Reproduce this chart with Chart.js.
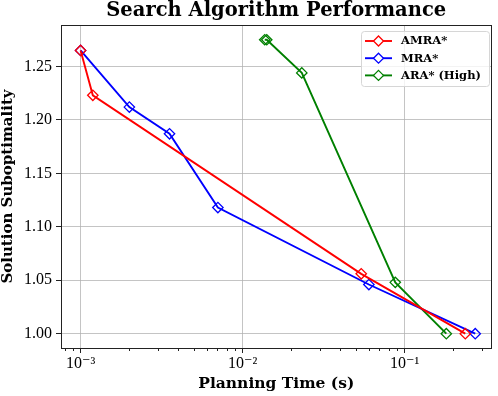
<!DOCTYPE html>
<html>
<head>
<meta charset="utf-8">
<script src="https://cdn.jsdelivr.net/npm/chart.js@4.4.0/dist/chart.umd.min.js"></script>
<style>
  html, body { margin: 0; padding: 0; background: #fff; }
</style>
</head>
<body>
<canvas id="chart" width="498" height="396"></canvas>
<script>
// Series
const seriesNames = ['AMRA*', 'MRA*', 'ARA* (High)'];
const seriesColors = ['#ff0000', '#0000ff', '#008000'];

const amraTime = [0.001, 0.00119, 0.054, 0.237];
const amraSubopt = [1.265, 1.223, 1.056, 1.000];

const mraTime = [0.001, 0.002, 0.00354, 0.00704, 0.0602, 0.273];
const mraSubopt = [1.265, 1.212, 1.187, 1.118, 1.046, 1.000];

const araTime = [0.0137, 0.0141, 0.0232, 0.0876, 0.181];
const araSubopt = [1.275, 1.275, 1.244, 1.048, 1.000];

const xMajorTicks = [0.001, 0.01, 0.1];
const yTicks = [1.00, 1.05, 1.10, 1.15, 1.20, 1.25];

const serif = "'DejaVu Serif', serif";
const tickFont = "'Liberation Serif', 'DejaVu Serif', serif";
const sup = { '-': '\u207B', '1': '\u00B9', '2': '\u00B2', '3': '\u00B3' };

const toPoints = (xs, ys) => xs.map((x, i) => ({ x, y: ys[i] }));

const makeDataset = (i, xs, ys) => ({
    label: seriesNames[i],
    data: toPoints(xs, ys),
    borderColor: seriesColors[i],
    borderWidth: 1.9,
    pointStyle: 'rectRot',
    pointRadius: 5.2,
    pointBorderWidth: 1.3,
    pointBorderColor: seriesColors[i],
    pointBackgroundColor: 'rgba(0,0,0,0)',
    tension: 0,
    fill: false
});

// minor ticks, frame and legend box
const extras = {
    id: 'extras',
    afterDatasetsDraw(chart) {
        const { ctx, chartArea: a, scales } = chart;
        const xs = scales.x;
        ctx.save();
        ctx.strokeStyle = '#222';
        ctx.lineWidth = 1;
        for (let k = -4; k <= 0; k++) {
            for (let m = 2; m <= 9; m++) {
                const v = m * Math.pow(10, k);
                if (v < xs.min || v > xs.max) continue;
                const px = Math.round(xs.getPixelForValue(v)) + 0.5;
                ctx.beginPath();
                ctx.moveTo(px, a.bottom);
                ctx.lineTo(px, a.bottom + 3);
                ctx.stroke();
            }
        }
        ctx.strokeRect(Math.round(a.left) + 0.5, Math.round(a.top) + 0.5,
            Math.round(a.right - a.left) - 1, Math.round(a.bottom - a.top));

        // legend
        const bx = 361.5, by = 31.5, bw = 128, bh = 55, r = 3;
        ctx.beginPath();
        ctx.moveTo(bx + r, by);
        ctx.arcTo(bx + bw, by, bx + bw, by + bh, r);
        ctx.arcTo(bx + bw, by + bh, bx, by + bh, r);
        ctx.arcTo(bx, by + bh, bx, by, r);
        ctx.arcTo(bx, by, bx + bw, by, r);
        ctx.closePath();
        ctx.fillStyle = 'rgba(255,255,255,0.8)';
        ctx.fill();
        ctx.strokeStyle = '#d6d6d6';
        ctx.stroke();

        ctx.font = 'bold 11.5px ' + serif;
        ctx.textBaseline = 'middle';
        seriesNames.forEach((name, i) => {
            const cy = 41 + i * 17.2;
            ctx.strokeStyle = seriesColors[i];
            ctx.lineWidth = 1.9;
            ctx.beginPath();
            ctx.moveTo(365, cy);
            ctx.lineTo(392, cy);
            ctx.stroke();
            ctx.lineWidth = 1.3;
            ctx.beginPath();
            ctx.moveTo(378.5, cy - 5);
            ctx.lineTo(383.5, cy);
            ctx.lineTo(378.5, cy + 5);
            ctx.lineTo(373.5, cy);
            ctx.closePath();
            ctx.fillStyle = '#fff';
            ctx.fill();
            ctx.stroke();
            ctx.fillStyle = '#000';
            ctx.fillText(name, 401, cy + 0.5);
        });
        ctx.restore();
    }
};

new Chart(document.getElementById('chart').getContext('2d'), {
    type: 'line',
    data: {
        datasets: [
            makeDataset(0, amraTime, amraSubopt),
            makeDataset(1, mraTime, mraSubopt),
            makeDataset(2, araTime, araSubopt)
        ]
    },
    options: {
        responsive: false,
        animation: false,
        layout: { padding: { left: 0, right: 3, top: 0, bottom: 0 } },
        plugins: {
            legend: { display: false },
            tooltip: { enabled: false },
            title: {
                display: true,
                fullSize: false,
                text: 'Search Algorithm Performance',
                color: '#000',
                font: { family: serif, size: 19.5, weight: 'bold', lineHeight: 1.0 },
                padding: { top: 1, bottom: 4.5 }
            }
        },
        scales: {
            x: {
                type: 'logarithmic',
                min: 7.57e-4,
                max: 0.344,
                afterBuildTicks: s => { s.ticks = xMajorTicks.map(v => ({ value: v })); },
                afterFit: s => { s.height = 48; },
                ticks: {
                    color: '#000',
                    font: { family: tickFont, size: 16 },
                    padding: 1,
                    maxRotation: 0,
                    autoSkip: false,
                    callback: v => '10' + String(Math.round(Math.log10(v))).split('').map(c => sup[c]).join('')
                },
                grid: { color: 'rgba(176,176,176,0.75)', lineWidth: 1, tickLength: 5, tickColor: '#222' },
                border: { display: false },
                title: {
                    display: true,
                    text: 'Planning Time (s)',
                    color: '#000',
                    font: { family: serif, size: 15.5, weight: 'bold', lineHeight: 1.2 },
                    padding: { top: 0, bottom: 3 }
                }
            },
            y: {
                min: 0.9866,
                max: 1.2888,
                afterBuildTicks: s => { s.ticks = yTicks.map(v => ({ value: v })); },
                afterFit: s => { s.width = 61; },
                ticks: {
                    color: '#000',
                    font: { family: tickFont, size: 16 },
                    padding: 4,
                    callback: v => v.toFixed(2)
                },
                grid: { color: 'rgba(176,176,176,0.75)', lineWidth: 1, tickLength: 5, tickColor: '#222' },
                border: { display: false },
                title: {
                    display: true,
                    text: 'Solution Suboptimality',
                    color: '#000',
                    font: { family: serif, size: 15, weight: 'bold', lineHeight: 1.1 },
                    padding: { top: 0, bottom: 0 }
                }
            }
        }
    },
    plugins: [extras]
});
</script>
</body>
</html>
